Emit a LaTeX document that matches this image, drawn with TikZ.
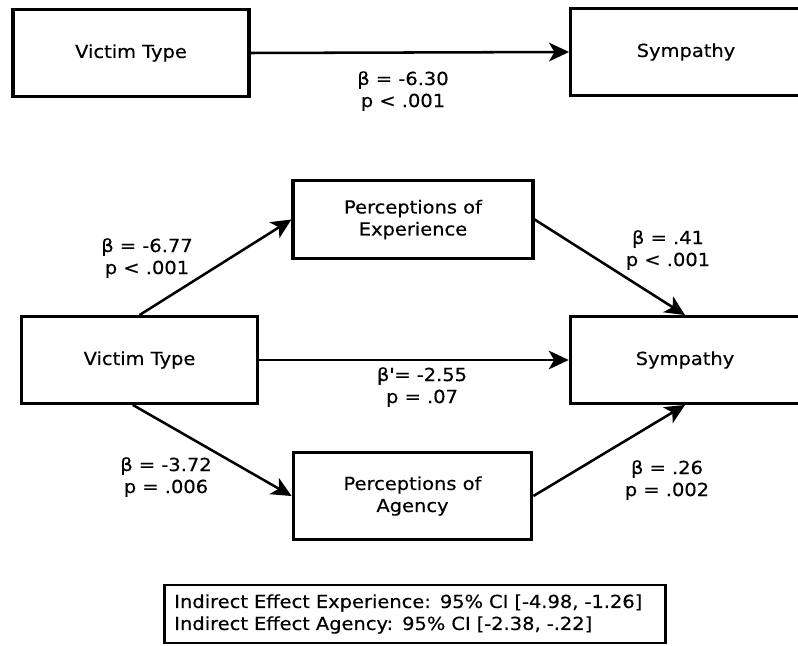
\documentclass[tikz,border=0pt]{standalone}
\usepackage{fontspec}
\setmainfont{DejaVu Sans}[FakeStretch=1.08, FakeBold=0.4]
\usetikzlibrary{arrows.meta}

\begin{document}
\begin{tikzpicture}[x=0.75pt, y=-0.75pt,
  every node/.style={font=\fontsize{13.5pt}{16.5pt}\selectfont},
  box/.style={draw, line width=2.4pt, minimum width=177pt, minimum height=65pt, align=center},
  coef/.style={align=center, inner sep=0pt},
  path/.style={line width=1.9pt, -{Stealth[length=15pt, width=14pt, inset=4pt]}}]
\useasboundingbox (0,0) rectangle (798,645);
\clip (0,0) rectangle (798,645);
% total effect
\node[box] (vtA) at (131,53) {Victim Type};
\node[box, minimum width=173pt] (symA) at (686,52) {Sympathy};
\draw[path] (vtA.east) -- (symA.west);
\node[coef] (cA) at (403,91) {β = -6.30\\p < .001};
% mediation model
\node[box] (vtB) at (139.5,360) {Victim Type};
\node[box, minimum width=172pt] (symB) at (685,360) {Sympathy};
\node[box, minimum width=180pt, minimum height=59pt] (exp) at (413,219.5) {Perceptions of\\Experience};
\node[box, minimum width=179pt] (agn) at (412.5,496) {Perceptions of\\Agency};
\draw[path] (vtB.north) -- (exp.west);
\draw[path] (exp.east) -- (symB.north);
\draw[path] (vtB.east) -- (symB.west);
\draw[path] ([xshift=-5pt]vtB.south) -- (agn.west);
\draw[path] (agn.east) -- (symB.south);
\node[coef] (cExpA) at (147,258) {β = -6.77\\p < .001};
\node[coef] (cExpB) at (668,250) {β = .41\\p < .001};
\node[coef] (cDir) at (422,387) {β\textquotesingle= -2.55\\p = .07};
\node[coef] (cAgnA) at (166,477) {β = -3.72\\p = .006};
\node[coef] (cAgnB) at (667,480) {β = .26\\p = .002};
% indirect effects
\node[draw, line width=2pt, anchor=west, inner xsep=7.5pt, text width=360.75pt, minimum height=43.5pt, align=left] (ci) at (163,614)
  {Indirect Effect Experience: 95\% CI [-4.98, -1.26]\\Indirect Effect Agency: 95\% CI [-2.38, -.22]};
\end{tikzpicture}
\end{document}
